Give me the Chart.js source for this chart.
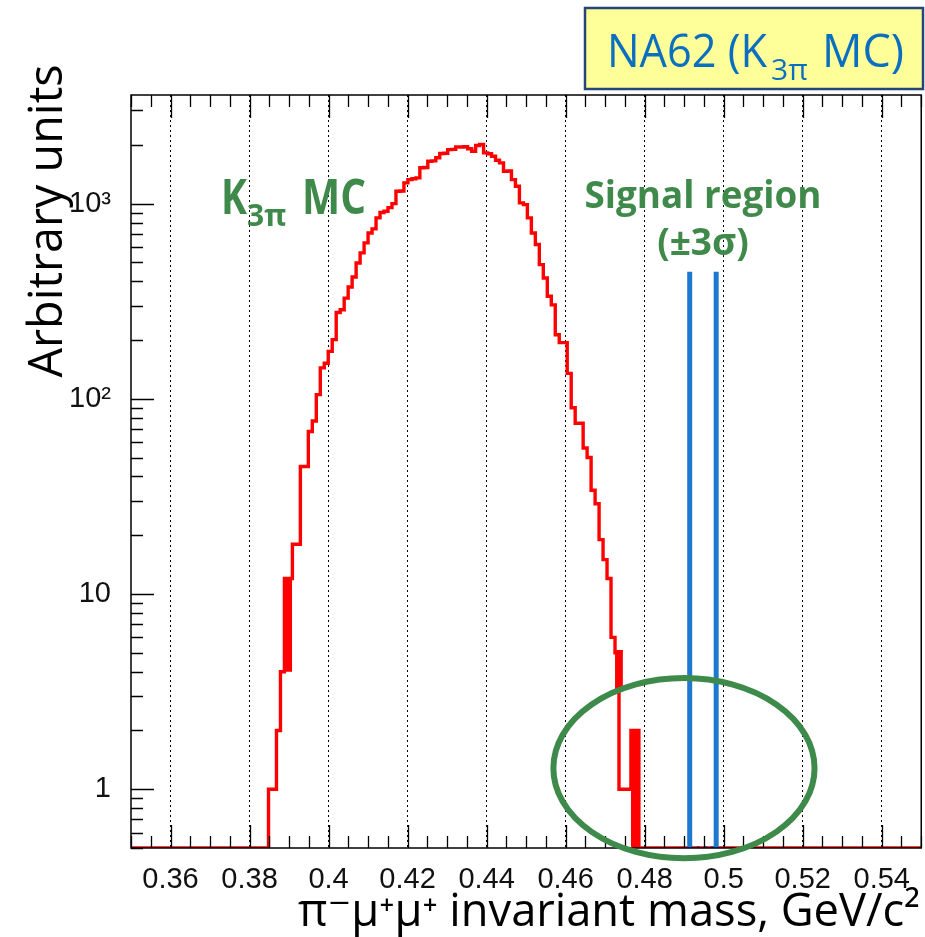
<!DOCTYPE html>
<html lang="en">
<head>
<meta charset="UTF-8">
<title>K3pi MC - invariant mass</title>
<script src="https://cdn.jsdelivr.net/npm/chart.js@4.4.1/dist/chart.umd.min.js"></script>
<style>
    body { margin: 0; background: #fff; }
    canvas { display: block; }
</style>
</head>
<body>
<canvas id="mass_chart" width="925" height="937"></canvas>

<script>
    // histogram binning (GeV/c^2) and bin contents
    var binStart = 0.3848;
    var binWidth = 0.001008;
    var counts = [
        1, 1, 2, 4, 12, 12, 18, 18, 45, 45,
        68, 77, 105, 144, 152, 175, 201, 277, 286, 328,
        374, 421, 496, 559, 629, 707, 742, 845, 900, 913,
        954, 1000, 1157, 1160, 1277, 1327, 1340, 1355, 1525, 1530,
        1649, 1655, 1717, 1805, 1810, 1891, 1895, 1953, 1950, 1955,
        1908, 1855, 1983, 2010, 1820, 1800, 1747, 1667, 1617, 1465,
        1470, 1327, 1227, 1009, 988, 845, 707, 617, 487, 416,
        335, 303, 213, 194, 194, 135, 90, 75, 75, 56,
        50, 34, 29, 19, 15, 12, 6, 5, 1, 1,
        1, 2, 2
    ];

    // bins that come out as solid red blocks
    var blockFrom = [0.3888, 0.4725, 0.4765];
    var blockTo = [0.3908, 0.4745, 0.4785];
    var blockLow = [4, 3.2, 0];
    var blockHigh = [12, 5.1, 2];

    // signal region (+-3 sigma around m_K)
    var signalEdges = [0.4914, 0.4981];
    var signalTop = 448;

    // circled area (mass range, content range)
    var ellipseX = [0.4569, 0.5230];
    var ellipseY = [0.443, 3.71];

    var xRange = [0.35, 0.55];
    var yRange = [0.5, 3600];
    var xTicks = [0.36, 0.38, 0.40, 0.42, 0.44, 0.46, 0.48, 0.50, 0.52, 0.54];
    var xTickLabels = ['0.36', '0.38', '0.4', '0.42', '0.44', '0.46', '0.48', '0.5', '0.52', '0.54'];
    var yTicks = [1, 10, 100, 1000];
    var yTickLabels = ['1', '10', '10²', '10³'];

    var tickFont = {family: '"Liberation Sans Narrow", "Liberation Sans", sans-serif', size: 29};
    var textFamily = '"Open Sans", "DejaVu Sans", sans-serif';

    // empty bins sit on the floor of the log axis, like ROOT draws them
    var floor = function(v) { return Math.max(v, yRange[0]); };

    var histPoints = function() {
        var pts = [{x: xRange[0], y: floor(0)}];
        counts.forEach(function(c, i) {
            pts.push({x: binStart + i * binWidth, y: floor(c)});
        });
        pts.push({x: binStart + counts.length * binWidth, y: floor(0)});
        pts.push({x: xRange[1], y: floor(0)});
        return pts;
    };

    var datasets = [];

    signalEdges.forEach(function(m) {
        datasets.push({
            data: [{x: m, y: floor(0)}, {x: m, y: signalTop}],
            borderColor: '#1d78cf', borderWidth: 5, pointRadius: 0, order: 0
        });
    });
    datasets.push({
        data: [{x: signalEdges[0], y: floor(0)}, {x: signalEdges[1], y: floor(0)}],
        borderColor: '#1515c8', borderWidth: 3, borderDash: [3, 4], pointRadius: 0, order: 1
    });

    blockFrom.forEach(function(from, i) {
        datasets.push({
            data: [{x: from, y: blockHigh[i]}, {x: blockTo[i], y: blockHigh[i]}],
            borderColor: '#ff0000', borderWidth: 2, backgroundColor: '#ff0000',
            fill: {value: floor(blockLow[i])}, pointRadius: 0, order: 2
        });
    });

    datasets.push({
        data: histPoints(),
        stepped: 'before',
        borderColor: '#ff0000', borderWidth: 3.4, pointRadius: 0, fill: false, order: 3
    });

    var text = function(ctx, str, x, y, font, color, align, maxWidth) {
        ctx.font = font;
        ctx.fillStyle = color;
        ctx.textAlign = align;
        ctx.textBaseline = 'alphabetic';
        ctx.fillText(str, x, y, maxWidth);
    };

    // ROOT-style frame, inward ticks, labels and the circled region
    var decorations = {
        id: 'decorations',
        afterDraw: function(chart) {
            var ctx = chart.ctx, a = chart.chartArea;
            var sx = chart.scales.x, sy = chart.scales.y;
            ctx.save();

            ctx.strokeStyle = '#000';
            ctx.lineWidth = 1.5;
            ctx.strokeRect(a.left, a.top, a.right - a.left, a.bottom - a.top);

            ctx.lineWidth = 1.3;
            ctx.beginPath();
            for (var v = xRange[0]; v <= xRange[1] + 1e-9; v += 0.005) {
                var major = Math.abs(v / 0.02 - Math.round(v / 0.02)) < 1e-6;
                var len = major ? 23 : 12;
                var px = Math.round(sx.getPixelForValue(v)) + 0.5;
                ctx.moveTo(px, a.bottom); ctx.lineTo(px, a.bottom - len);
                ctx.moveTo(px, a.top); ctx.lineTo(px, a.top + len);
            }
            for (var d = 0.1; d <= 1000; d *= 10) {
                for (var m = 1; m <= 9; m++) {
                    var val = m * d;
                    if (val < yRange[0] || val > yRange[1]) continue;
                    var py = Math.round(sy.getPixelForValue(val)) + 0.5;
                    ctx.moveTo(a.left, py); ctx.lineTo(a.left + (m === 1 ? 23 : 12), py);
                }
            }
            ctx.stroke();

            // axis titles
            ctx.save();
            ctx.translate(62, 221);
            ctx.rotate(-Math.PI / 2);
            text(ctx, 'Arbitrary units', 0, 0, '48px ' + textFamily, '#000', 'center', 313);
            ctx.restore();
            text(ctx, 'π⁻μ⁺μ⁺ invariant mass, GeV/c²', 920, 926, '46px ' + textFamily, '#000', 'right', 622);

            // sample label
            var kx = sx.getPixelForValue(0.3728), ky = sy.getPixelForValue(880);
            text(ctx, 'K', kx, ky, 'bold 48px ' + textFamily, '#3f8a4b', 'left', 26);
            text(ctx, '3π', kx + 26, ky + 12, 'bold 30px ' + textFamily, '#3f8a4b', 'left', 42);
            text(ctx, 'MC', kx + 81, ky, 'bold 48px ' + textFamily, '#3f8a4b', 'left', 64);

            // signal region label, centred on the window
            var sc = sx.getPixelForValue((signalEdges[0] + signalEdges[1]) / 2);
            var sTop = sy.getPixelForValue(signalTop);
            text(ctx, 'Signal region', sc, sTop - 64, 'bold 37px ' + textFamily, '#3f8a4b', 'center', 237);
            text(ctx, '(±3σ)', sc, sTop - 17, 'bold 37px ' + textFamily, '#3f8a4b', 'center', 97);

            // circled region
            var ex0 = sx.getPixelForValue(ellipseX[0]), ex1 = sx.getPixelForValue(ellipseX[1]);
            var ey0 = sy.getPixelForValue(ellipseY[1]), ey1 = sy.getPixelForValue(ellipseY[0]);
            ctx.beginPath();
            ctx.ellipse((ex0 + ex1) / 2, (ey0 + ey1) / 2, (ex1 - ex0) / 2, (ey1 - ey0) / 2, 0, 0, 2 * Math.PI);
            ctx.strokeStyle = '#3e8a4a';
            ctx.lineWidth = 6;
            ctx.stroke();

            // experiment box
            ctx.fillStyle = '#ffff99';
            ctx.fillRect(585, 8, 338, 81);
            ctx.strokeStyle = '#26467a';
            ctx.lineWidth = 2.5;
            ctx.strokeRect(585, 8, 338, 81);
            text(ctx, 'NA62 (K', 607, 67, '46px ' + textFamily, '#0a6fc0', 'left', 160);
            text(ctx, '3π', 771, 80, '30px ' + textFamily, '#0a6fc0', 'left', 38);
            text(ctx, 'MC)', 822, 67, '46px ' + textFamily, '#0a6fc0', 'left', 82);

            ctx.restore();
        }
    };

    var ctx = document.getElementById('mass_chart').getContext('2d');
    var chart = new Chart(ctx, {
        type: 'line',
        data: {datasets: datasets},
        options: {
            responsive: false,
            animation: false,
            events: [],
            layout: {padding: {top: 95, right: 1, bottom: 0, left: 0}},
            plugins: {legend: {display: false}, tooltip: {enabled: false}},
            scales: {
                x: {
                    type: 'linear',
                    min: xRange[0],
                    max: xRange[1],
                    afterBuildTicks: function(scale) {
                        scale.ticks = xTicks.map(function(v) { return {value: v}; });
                    },
                    afterFit: function(scale) { scale.height = 89; },
                    grid: {color: '#000', lineWidth: 1, drawTicks: false},
                    border: {display: false, dash: [2, 3]},
                    ticks: {
                        autoSkip: false, maxRotation: 0, padding: 15,
                        color: '#111', font: tickFont,
                        callback: function(v, i) { return xTickLabels[i]; }
                    }
                },
                y: {
                    type: 'logarithmic',
                    min: yRange[0],
                    max: yRange[1],
                    afterBuildTicks: function(scale) {
                        scale.ticks = yTicks.map(function(v) { return {value: v}; });
                    },
                    afterFit: function(scale) { scale.width = 131; },
                    grid: {display: false},
                    border: {display: false},
                    ticks: {
                        autoSkip: false, padding: 12,
                        color: '#111', font: tickFont,
                        callback: function(v, i) { return yTickLabels[i]; }
                    }
                }
            }
        },
        plugins: [decorations]
    });
</script>
</body>
</html>
